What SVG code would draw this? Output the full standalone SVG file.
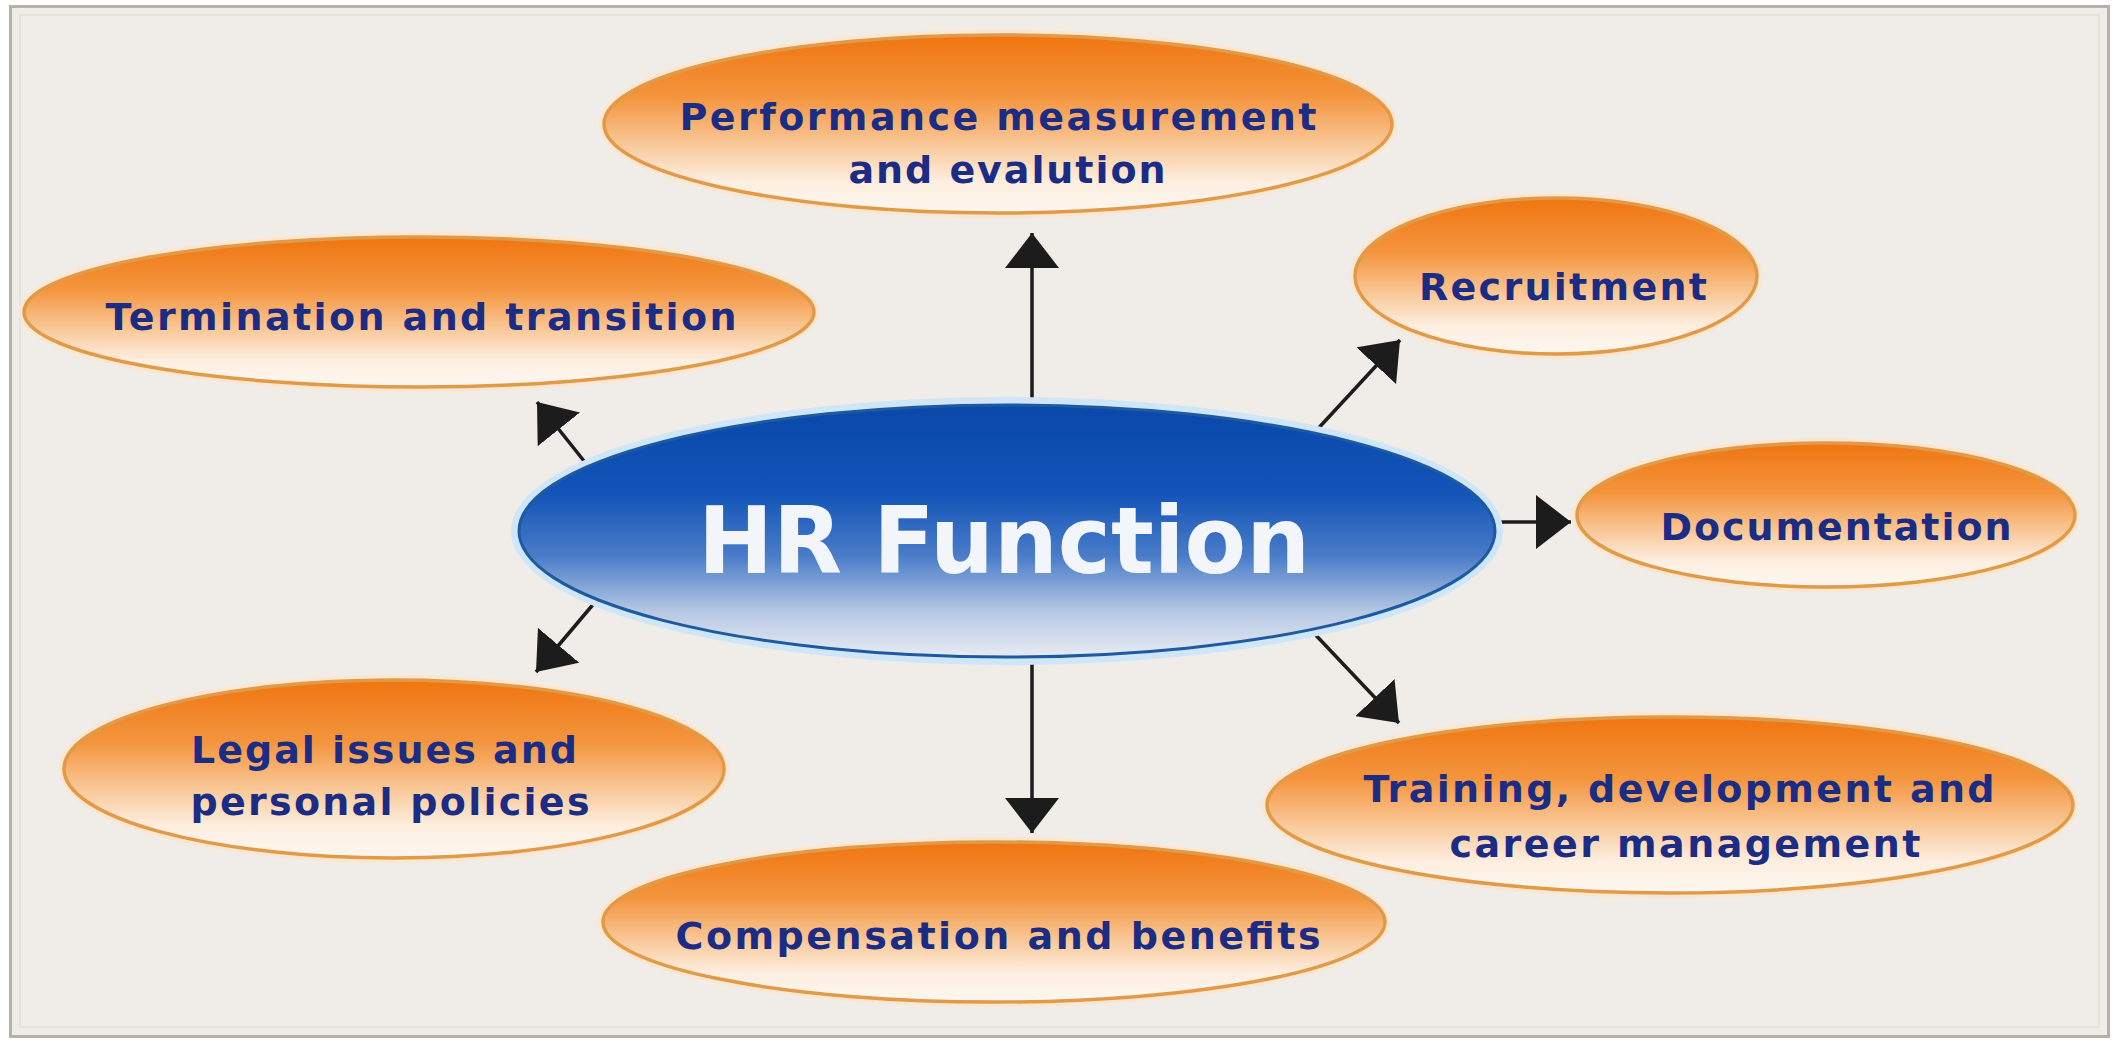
<svg xmlns="http://www.w3.org/2000/svg" width="2118" height="1049" viewBox="0 0 2118 1049">
<style>
.lbl{font-family:"DejaVu Sans","Liberation Sans",sans-serif;font-weight:bold;font-size:38px;fill:#1b2c84;text-anchor:middle}
.hr{font-family:"DejaVu Sans","Liberation Sans",sans-serif;font-weight:bold;font-size:92px;fill:#f2f5fa;text-anchor:middle}
.orange{fill:url(#og);stroke:#e09a48;stroke-width:3.5}
.glow{fill:none;stroke:#fbe6cf;stroke-width:10}
.conn{stroke:#1c1c1c;stroke-width:3.5;fill:none;marker-end:url(#ah)}
</style>
<defs>
<linearGradient id="og" x1="0" y1="0" x2="0" y2="1">
<stop offset="0" stop-color="#f07510"/>
<stop offset="0.35" stop-color="#f4953e"/>
<stop offset="0.62" stop-color="#f9c99a"/>
<stop offset="0.82" stop-color="#fdeee0"/>
<stop offset="1" stop-color="#fdf7f0"/>
</linearGradient>
<linearGradient id="bg" x1="0" y1="0" x2="0" y2="1">
<stop offset="0" stop-color="#0a48aa"/>
<stop offset="0.35" stop-color="#1254b8"/>
<stop offset="0.6" stop-color="#4a7cc8"/>
<stop offset="0.82" stop-color="#b6c8e4"/>
<stop offset="1" stop-color="#e6ebf3"/>
</linearGradient>
<marker id="ah" viewBox="0 0 35 54" refX="35" refY="27" markerWidth="35" markerHeight="54" markerUnits="userSpaceOnUse" orient="auto">
<path d="M0,0 L35,27 L0,54 Z" fill="#1c1c1c"/>
</marker>
</defs>
<rect x="0" y="0" width="2118" height="1049" fill="#ffffff"/>
<rect x="10.5" y="6.5" width="2098" height="1030" fill="#f0ece8" stroke="#b4b0ac" stroke-width="3"/>
<rect x="20" y="15" width="2079" height="1012" fill="none" stroke="#e6e2de" stroke-width="2"/>

<g id="connectors">
<line class="conn" x1="1032" y1="408" x2="1032" y2="233"/>
<line class="conn" x1="1032" y1="657" x2="1032" y2="833"/>
<line class="conn" x1="1494" y1="522" x2="1571" y2="522"/>
<line class="conn" x1="1314" y1="433" x2="1400" y2="340"/>
<line class="conn" x1="1310" y1="629" x2="1399" y2="723"/>
<line class="conn" x1="588" y1="466" x2="537" y2="402"/>
<line class="conn" x1="596" y1="601" x2="536" y2="672"/>
</g>

<g id="hr-function">
<ellipse cx="1007" cy="531" rx="492" ry="130" fill="none" stroke="#cfe6f8" stroke-width="8"/>
<ellipse cx="1007" cy="531" rx="488" ry="126" fill="url(#bg)" stroke="#1d5aa2" stroke-width="3"/>
<text class="hr" x="1004" y="573" textLength="612" lengthAdjust="spacingAndGlyphs">HR Function</text>
</g>

<g id="performance">
<ellipse class="glow" cx="998" cy="124" rx="394" ry="89"/>
<ellipse class="orange" cx="998" cy="124" rx="394" ry="89"/>
<text class="lbl" x="998" y="130" textLength="637">Performance measurement</text>
<text class="lbl" x="1007" y="183" textLength="317">and evalution</text>
</g>

<g id="termination">
<ellipse class="glow" cx="419" cy="312" rx="395" ry="75"/>
<ellipse class="orange" cx="419" cy="312" rx="395" ry="75"/>
<text class="lbl" x="421" y="330" textLength="631">Termination and transition</text>
</g>

<g id="recruitment">
<ellipse class="glow" cx="1556" cy="276" rx="201" ry="78"/>
<ellipse class="orange" cx="1556" cy="276" rx="201" ry="78"/>
<text class="lbl" x="1563" y="300" textLength="288">Recruitment</text>
</g>

<g id="documentation">
<ellipse class="glow" cx="1826" cy="515" rx="249" ry="72"/>
<ellipse class="orange" cx="1826" cy="515" rx="249" ry="72"/>
<text class="lbl" x="1836" y="540" textLength="351">Documentation</text>
</g>

<g id="legal">
<ellipse class="glow" cx="394" cy="769" rx="330" ry="89"/>
<ellipse class="orange" cx="394" cy="769" rx="330" ry="89"/>
<text class="lbl" x="384" y="763" textLength="386">Legal issues and</text>
<text class="lbl" x="390" y="815" textLength="399">personal policies</text>
</g>

<g id="compensation">
<ellipse class="glow" cx="994" cy="922" rx="391" ry="80"/>
<ellipse class="orange" cx="994" cy="922" rx="391" ry="80"/>
<text class="lbl" x="998" y="949" textLength="645">Compensation and benefits</text>
</g>

<g id="training">
<ellipse class="glow" cx="1670" cy="805" rx="403" ry="88"/>
<ellipse class="orange" cx="1670" cy="805" rx="403" ry="88"/>
<text class="lbl" x="1679" y="802" textLength="631">Training, development and</text>
<text class="lbl" x="1685" y="857" textLength="471">career management</text>
</g>
</svg>
